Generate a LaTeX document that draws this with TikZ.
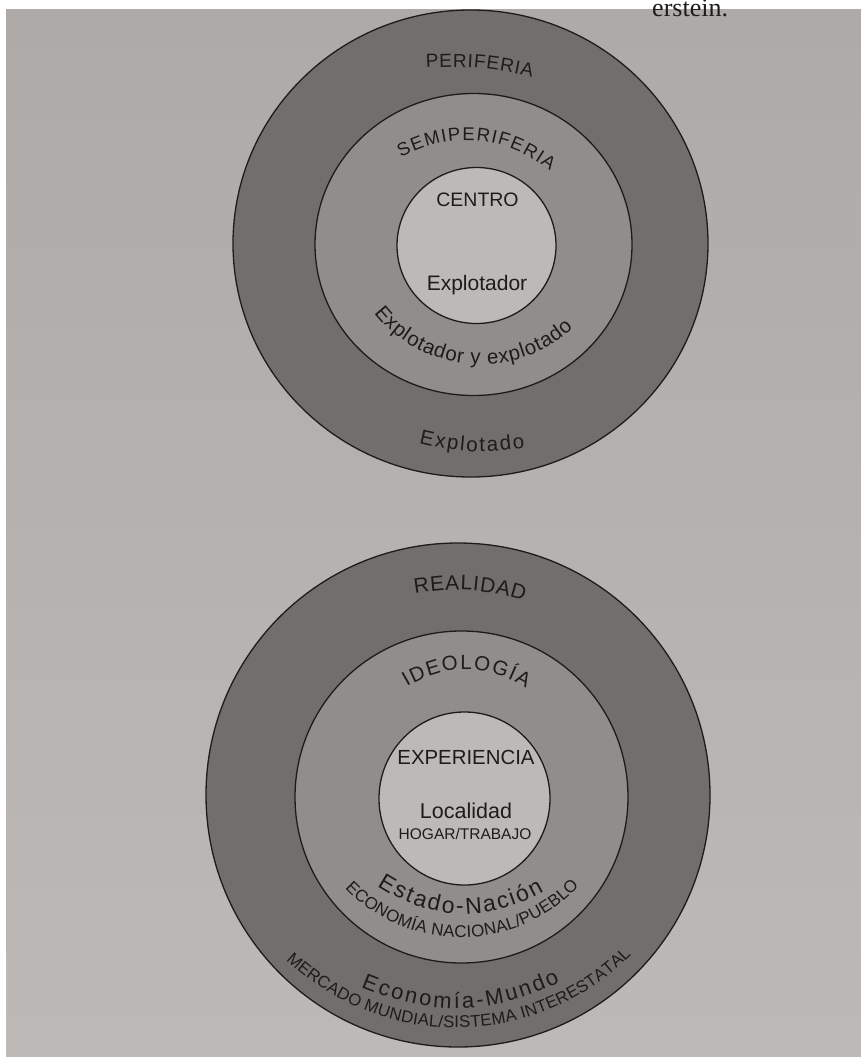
\documentclass[tikz,border=0pt]{standalone}
\usepackage{fontspec}
\setmainfont{Liberation Sans}
\newfontfamily\pageserif{Liberation Serif}
\usetikzlibrary{decorations.text}
\definecolor{pagebg}{HTML}{ADAAA7}
\definecolor{pagebgb}{HTML}{BCB9B6}
\definecolor{ringdark}{HTML}{716E6B}
\definecolor{ringmid}{HTML}{908D8A}
\definecolor{ringlight}{HTML}{BCB9B6}
\definecolor{ink}{HTML}{1E1C1B}
\tikzset{
  ring/.style={draw=ink, line width=1.3pt},
  lbl/.style={inner sep=0pt, text=ink},
  arctext/.style 2 args={decorate, decoration={text along path,
      text={|\fontsize{#1}{#1}\selectfont|#2}, text color=ink,
      text align=fit to path}},
}
\begin{document}
\begin{tikzpicture}[x=1pt,y=1pt]
\useasboundingbox (0,0) rectangle (861,-1057);
% page
\fill[white] (0,0) rectangle (861,-1057);
\shade[top color=pagebg, bottom color=pagebgb] (6,-10) rectangle (861,-1057);
\node[lbl, anchor=base west, font=\pageserif\fontsize{26}{26}\selectfont] (frag) at (652,-17) {erstein.};

% ---------- top diagram ----------
\filldraw[ring, fill=ringdark] (470.5,-243.5) ellipse [x radius=237.5pt, y radius=233.5pt];
\filldraw[ring, fill=ringmid] (473.5,-244.5) ellipse [x radius=158.5pt, y radius=151pt];
\filldraw[ring, fill=ringlight] (476.5,-245.5) ellipse [x radius=79.5pt, y radius=78pt];

\coordinate (p1) at (426,-68);  \coordinate (p2) at (532,-77);
\path[arctext={19}{PERIFERIA}] (p1) to[bend left=8] (p2);
\coordinate (s1) at (401,-158); \coordinate (s2) at (550,-171);
\path[arctext={18.5}{SEMIPERIFERIA}] (s1) to[bend left=33] (s2);
\coordinate (e1) at (374,-313); \coordinate (e2) at (573,-328);
\path[arctext={20.5}{Explotador y explotado}] (e1) to[bend right=48] (e2);
\coordinate (x1) at (419,-443); \coordinate (x2) at (525,-448);
\path[arctext={20.5}{Explotado}] (x1) to[bend right=11] (x2);

\node[lbl, font=\fontsize{19.5}{20}\selectfont] (centro) at (477.5,-200) {CENTRO};
\node[lbl, font=\fontsize{21}{22}\selectfont] (explotador) at (477,-285) {Explotador};

% ---------- bottom diagram ----------
\filldraw[ring, fill=ringdark] (458,-795) ellipse [x radius=252pt, y radius=252pt];
\filldraw[ring, fill=ringmid] (461.5,-797) ellipse [x radius=166.5pt, y radius=166pt];
\filldraw[ring, fill=ringlight] (464.5,-798.5) ellipse [x radius=85.5pt, y radius=86.5pt];

\coordinate (r1) at (415,-594); \coordinate (r2) at (524,-601);
\path[arctext={21}{REALIDAD}] (r1) to[bend left=13] (r2);
\coordinate (i1) at (407,-687); \coordinate (i2) at (526,-688);
\path[arctext={20.5}{IDEOLOGÍA}] (i1) to[bend left=31] (i2);
\coordinate (n1) at (377,-886); \coordinate (n2) at (544,-891);
\path[arctext={23}{Estado-Nación}] (n1) to[bend right=31] (n2);
\coordinate (c1) at (345,-888); \coordinate (c2) at (579,-886);
\path[arctext={17}{ECONOMÍA NACIONAL/PUEBLO}] (c1) to[bend right=47] (c2);
\coordinate (m1) at (361,-987); \coordinate (m2) at (560,-982);
\path[arctext={22}{Economía-Mundo}] (m1) to[bend right=24] (m2);
\coordinate (k1) at (286,-960); \coordinate (k2) at (631,-955);
\path[arctext={16.8}{MERCADO MUNDIAL/SISTEMA INTERESTATAL}] (k1) to[bend right=44] (k2);

\node[lbl, font=\fontsize{20.4}{21}\selectfont] (experiencia) at (466,-757) {EXPERIENCIA};
\node[lbl, font=\fontsize{21.5}{22}\selectfont] (localidad) at (466,-811) {Localidad};
\node[lbl, font=\fontsize{15.5}{16}\selectfont] (hogar) at (465,-834) {HOGAR/TRABAJO};
\end{tikzpicture}
\end{document}
